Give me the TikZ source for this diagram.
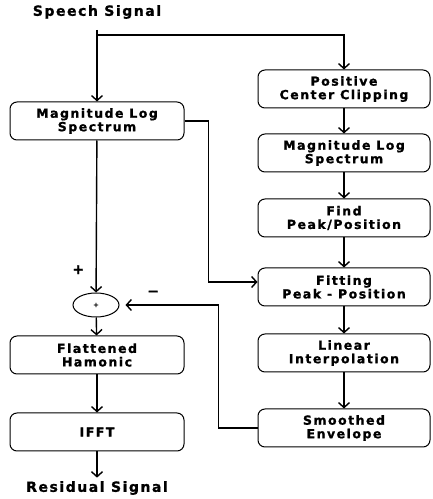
\documentclass[tikz,border=0pt]{standalone}
\usepackage{fontspec}
\newfontfamily\blockfont{DejaVu Sans}[LetterSpace=12, BoldFeatures={FakeBold=1.2}]
\newfontfamily\tagfont{DejaVu Sans}[LetterSpace=11, BoldFeatures={FakeBold=1.2}]
\usetikzlibrary{arrows.meta,positioning,shapes.geometric}

\begin{document}
\begin{tikzpicture}[x=1pt, y=1pt,
    block/.style={draw, rounded corners=7pt, line width=1pt, minimum width=174pt, minimum height=38pt, align=center,
      inner sep=2pt, font=\blockfont\bfseries\fontsize{12.5}{13.5}\selectfont},
    tag/.style={font=\tagfont\bfseries\fontsize{14}{15}\selectfont},
    sum/.style={draw, ellipse, line width=1pt, minimum width=46pt, minimum height=24pt, inner sep=0pt,
      font=\blockfont\bfseries\fontsize{7}{7}\selectfont},
    link/.style={-{Straight Barb[length=5pt,width=11pt]}, line width=1.4pt}
  ]
    \useasboundingbox (0,0) rectangle (432,499);

    \node[tag] (speech) at (97,487) {Speech Signal};
    \coordinate (src) at (97,469);
    \coordinate (split) at (97,464);

    \node[block] (mls1) at (97,378) {Magnitude Log\\Spectrum};
    \node[sum] (sum) at (96,194) {+};
    \node[block] (flat) at (97,144) {Flattened\\Hamonic};
    \node[block] (ifft) at (97,67) {IFFT};
    \node[tag] (resid) at (97,11) {Residual Signal};

    \node[block, minimum width=172pt] (clip) at (344,410) {Positive\\Center Clipping};
    \node[block, minimum width=172pt] (mls2) at (344,346) {Magnitude Log\\Spectrum};
    \node[block, minimum width=172pt] (peak) at (344,281) {Find\\Peak/Position};
    \node[block, minimum width=172pt] (fit) at (344,212) {Fitting\\Peak - Position};
    \node[block, minimum width=172pt] (interp) at (344,146) {Linear\\Interpolation};
    \node[block, minimum width=172pt] (env) at (344,71) {Smoothed\\Envelope};

    \draw[link] (src) -- (mls1);
    \draw[link] (split) -| (clip);
    \draw[link] (clip) -- (mls2);
    \draw[link] (mls2) -- (peak);
    \draw[link] (peak) -- (fit);
    \draw[link] (fit) -- (interp);
    \draw[link] (interp) -- (env);

    \draw[link] (mls1.east) -- ++(24,0) |- ([yshift=5pt]fit.west);
    \draw[link] (mls1) -- node[pos=0.85, left=8pt, tag] {+} (sum);
    \draw[link, shorten >=6pt] (env.west) -- ++(-39,0) |- node[pos=0.83, above=5pt, tag] {−} (sum.east);

    \draw[link] (sum) -- (flat);
    \draw[link] (flat) -- (ifft);
    \draw[link] (ifft) -- (resid);
\end{tikzpicture}
\end{document}
